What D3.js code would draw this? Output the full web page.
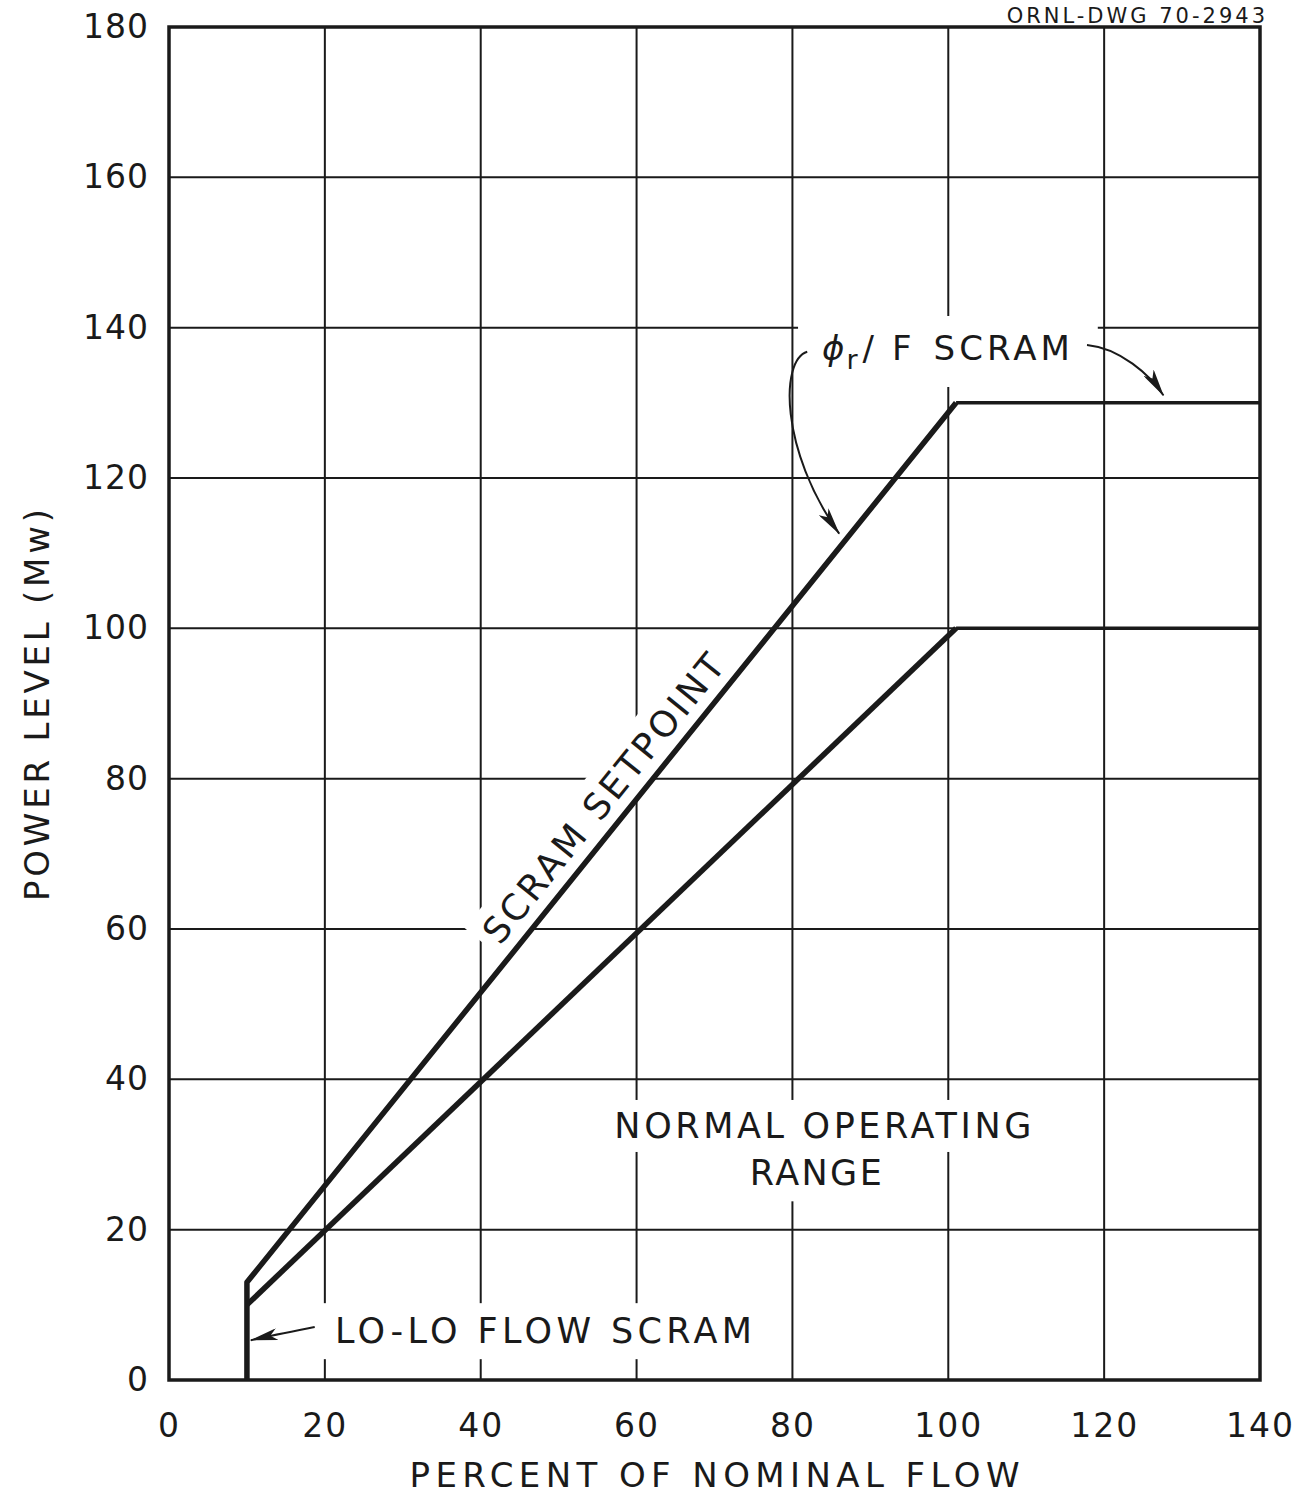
<!DOCTYPE html>
<html>
<head>
<meta charset="utf-8">
<script src="https://cdn.jsdelivr.net/npm/d3@7"></script>
<style>
  body { margin: 0; background: #fff; }
  svg text { font-family: "DejaVu Sans", sans-serif; fill: #1a1a1a; }
</style>
</head>
<body>
<div id="chart"></div>
<script>
const width = 1301;
const height = 1501;

// axis ticks
const xTicks = [0, 20, 40, 60, 80, 100, 120, 140];
const yTicks = [0, 20, 40, 60, 80, 100, 120, 140, 160, 180];

// scram setpoint curve (flow %, power Mw)
const scramFlow = [10, 10, 101];
const scramPower = [0, 13, 130];
const scramFlatFlow = [101, 140];
const scramFlatPower = [130, 130];

// normal operating limit
const normalFlow = [10, 101];
const normalPower = [10, 100];
const normalFlatFlow = [101, 140];
const normalFlatPower = [100, 100];

const svg = d3.select("#chart")
    .append("svg")
    .attr("width", width)
    .attr("height", height);

const x = d3.scaleLinear().domain([0, 140]).range([169, 1260]);
const y = d3.scaleLinear().domain([0, 180]).range([1380, 27]);

const ink = "#1a1a1a";

// arrowhead
svg.append("defs").append("marker")
    .attr("id", "arrow")
    .attr("viewBox", "0 0 28 12")
    .attr("refX", 27)
    .attr("refY", 6)
    .attr("markerWidth", 28)
    .attr("markerHeight", 12)
    .attr("markerUnits", "userSpaceOnUse")
    .attr("orient", "auto")
    .append("path")
    .attr("d", "M0,0 L28,6 L0,12 L7,6 Z")
    .attr("fill", ink);

// header (drawing number)
svg.append("text")
    .attr("x", 1268)
    .attr("y", 23)
    .attr("text-anchor", "end")
    .attr("font-size", 21)
    .attr("letter-spacing", 3)
    .text("ORNL-DWG 70-2943");

// grid
const grid = svg.append("g").attr("stroke", ink).attr("stroke-width", 2);
grid.selectAll(".vx")
    .data(xTicks.slice(1, -1))
    .enter().append("line")
    .attr("x1", d => x(d)).attr("x2", d => x(d))
    .attr("y1", y(0)).attr("y2", y(180));
grid.selectAll(".hy")
    .data(yTicks.slice(1, -1))
    .enter().append("line")
    .attr("x1", x(0)).attr("x2", x(140))
    .attr("y1", d => y(d)).attr("y2", d => y(d));

// frame
svg.append("rect")
    .attr("x", x(0)).attr("y", y(180))
    .attr("width", x(140) - x(0)).attr("height", y(0) - y(180))
    .attr("fill", "none").attr("stroke", ink).attr("stroke-width", 3.5);

// axes (labels only)
const xAxis = d3.axisBottom(x).tickValues(xTicks).tickSize(0).tickPadding(0);
svg.append("g")
    .attr("transform", `translate(0, ${y(0) + 34})`)
    .call(xAxis)
    .call(g => g.select(".domain").remove())
    .selectAll("text")
    .attr("font-family", "DejaVu Sans")
    .attr("font-size", 33)
    .attr("letter-spacing", 2)
    .attr("fill", ink);

const yAxis = d3.axisLeft(y).tickValues(yTicks).tickSize(0).tickPadding(0);
svg.append("g")
    .attr("transform", `translate(${x(0) - 20}, 0)`)
    .call(yAxis)
    .call(g => g.select(".domain").remove())
    .selectAll("text")
    .attr("font-family", "DejaVu Sans")
    .attr("font-size", 33)
    .attr("letter-spacing", 1)
    .attr("fill", ink);

// axis titles
svg.append("text")
    .attr("x", (x(0) + x(140)) / 2)
    .attr("y", 1487)
    .attr("text-anchor", "middle")
    .attr("font-size", 34)
    .attr("textLength", 610)
    .attr("lengthAdjust", "spacing")
    .text("PERCENT OF NOMINAL FLOW");

svg.append("text")
    .attr("transform", "translate(49, 705) rotate(-90)")
    .attr("text-anchor", "middle")
    .attr("font-size", 34)
    .attr("textLength", 392)
    .attr("lengthAdjust", "spacing")
    .text("POWER LEVEL (Mw)");

// labels on white patches that break the grid
function label(fx, fy, str, opts) {
    const o = Object.assign({ size: 35, anchor: "start", rotate: 0, len: null, padX: 14, padY: 10 }, opts);
    const g = svg.append("g")
        .attr("transform", `translate(${x(fx)}, ${y(fy)}) rotate(${o.rotate})`);
    const t = g.append("text")
        .attr("text-anchor", o.anchor)
        .attr("font-size", o.size);
    if (o.len) t.attr("textLength", o.len).attr("lengthAdjust", "spacing");
    if (typeof str === "string") t.text(str);
    else str(t);
    const b = t.node().getBBox();
    g.insert("rect", "text")
        .attr("x", b.x - o.padX).attr("y", b.y - o.padY)
        .attr("width", b.width + 2 * o.padX).attr("height", b.height + 2 * o.padY)
        .attr("fill", "#fff");
    return g;
}

label(83.8, 135.7, t => {
    t.append("tspan").attr("font-style", "italic").text("\u03d5");
    t.append("tspan").attr("font-size", 27).attr("dx", 2).attr("dy", 9).text("r");
    t.append("tspan").attr("dx", 5).attr("dy", -9).text("/");
    t.append("tspan").attr("dx", 18).text("F");
    t.append("tspan").attr("dx", 22).attr("letter-spacing", 4).text("SCRAM");
}, { padX: 24, padY: 12, size: 34 });

label(57.0, 76.3, "SCRAM SETPOINT", { anchor: "middle", rotate: -51, len: 360, size: 36, padX: 8, padY: 6 });
label(83.9, 32.2, "NORMAL OPERATING", { anchor: "middle", len: 417, padY: 6 });
label(83.0, 25.9, "RANGE", { anchor: "middle", len: 132, padY: 8, padX: 40 });
label(21.3, 4.9, "LO-LO FLOW SCRAM", { len: 417, padX: 16, padY: 8 });

// curves
const line = d3.line().x(d => x(d[0])).y(d => y(d[1]));
const zip = (a, b) => a.map((v, i) => [v, b[i]]);

svg.append("path")
    .attr("d", line(zip(normalFlow, normalPower)))
    .attr("fill", "none").attr("stroke", ink).attr("stroke-width", 5.5);
svg.append("path")
    .attr("d", line(zip(normalFlatFlow, normalFlatPower)))
    .attr("fill", "none").attr("stroke", ink).attr("stroke-width", 3.5);
svg.append("path")
    .attr("d", line(zip(scramFlow, scramPower)))
    .attr("fill", "none").attr("stroke", ink).attr("stroke-width", 5.5)
    .attr("stroke-linejoin", "round");
svg.append("path")
    .attr("d", line(zip(scramFlatFlow, scramFlatPower)))
    .attr("fill", "none").attr("stroke", ink).attr("stroke-width", 3.5);

// leader arrows
const arrows = [
    [[81.9, 136.8], [78.4, 135.7], [78.4, 123.7], [86.0, 112.6]],
    [[117.8, 137.7], [122.0, 137.3], [125.9, 133.7], [127.6, 131.0]],
    [[18.7, 7.05], [16, 6.5], [13, 5.9], [10.5, 5.3]]
];
svg.selectAll(".leader")
    .data(arrows)
    .enter().append("path")
    .attr("d", p => `M${x(p[0][0])},${y(p[0][1])} C${x(p[1][0])},${y(p[1][1])} ${x(p[2][0])},${y(p[2][1])} ${x(p[3][0])},${y(p[3][1])}`)
    .attr("fill", "none")
    .attr("stroke", ink)
    .attr("stroke-width", 2)
    .attr("marker-end", "url(#arrow)");
</script>
</body>
</html>
